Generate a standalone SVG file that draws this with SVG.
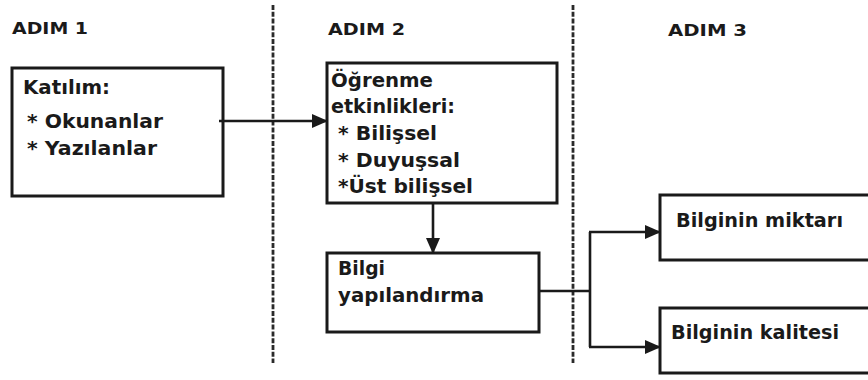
<svg xmlns="http://www.w3.org/2000/svg" width="868" height="380" viewBox="0 0 868 380">
<style>
.box{fill:#fff;stroke:#1a1a1a;stroke-width:3}
.t{font-family:"DejaVu Sans",Verdana,sans-serif;font-size:20px;font-weight:bold;fill:#1a1a1a}
.h{font-family:"DejaVu Sans",Verdana,sans-serif;font-size:15px;font-weight:bold;fill:#1a1a1a}
.c{fill:none;stroke:#1a1a1a;stroke-width:2.6}
.d{fill:none;stroke:#2a2a2a;stroke-width:2.8;stroke-dasharray:5 1.8}
</style>
<defs>
<marker id="ah" viewBox="0 0 16 14" refX="15" refY="7" markerWidth="16" markerHeight="14" markerUnits="userSpaceOnUse" orient="auto">
<path d="M0,0 L16,7 L0,14 Z" fill="#1a1a1a"/>
</marker>
</defs>
<rect width="868" height="380" fill="#fff"/>
<g id="dividers">
<line class="d" x1="273" y1="5" x2="273" y2="363"/>
<line class="d" x1="573" y1="5" x2="573" y2="363"/>
</g>
<g id="headers">
<text class="h" x="12" y="34" textLength="76" lengthAdjust="spacingAndGlyphs">ADIM 1</text>
<text class="h" x="328" y="35" textLength="77" lengthAdjust="spacingAndGlyphs">ADIM 2</text>
<text class="h" x="668" y="36" textLength="79" lengthAdjust="spacingAndGlyphs">ADIM 3</text>
</g>
<g id="node-katilim">
<rect class="box" x="12" y="68" width="211" height="128"/>
<text class="t" x="23" y="94" textLength="87" lengthAdjust="spacingAndGlyphs">Katılım:</text>
<text class="t" x="27" y="128" textLength="136" lengthAdjust="spacingAndGlyphs">* Okunanlar</text>
<text class="t" x="27" y="155" textLength="130" lengthAdjust="spacingAndGlyphs">* Yazılanlar</text>
</g>
<g id="node-ogrenme">
<rect class="box" x="327" y="63" width="230" height="140"/>
<text class="t" x="331" y="87" textLength="102" lengthAdjust="spacingAndGlyphs">Öğrenme</text>
<text class="t" x="331" y="113" textLength="124" lengthAdjust="spacingAndGlyphs">etkinlikleri:</text>
<text class="t" x="338" y="140" textLength="99" lengthAdjust="spacingAndGlyphs">* Bilişsel</text>
<text class="t" x="338" y="167" textLength="122" lengthAdjust="spacingAndGlyphs">* Duyuşsal</text>
<text class="t" x="338" y="193" textLength="135" lengthAdjust="spacingAndGlyphs">*Üst bilişsel</text>
</g>
<g id="node-bilgi">
<rect class="box" x="327" y="253" width="212" height="79"/>
<text class="t" x="338" y="275" textLength="47" lengthAdjust="spacingAndGlyphs">Bilgi</text>
<text class="t" x="338" y="302" textLength="146" lengthAdjust="spacingAndGlyphs">yapılandırma</text>
</g>
<g id="node-miktar">
<rect class="box" x="660" y="195" width="212" height="65"/>
<text class="t" x="676" y="227" textLength="167" lengthAdjust="spacingAndGlyphs">Bilginin miktarı</text>
</g>
<g id="node-kalite">
<rect class="box" x="660" y="308" width="212" height="65"/>
<text class="t" x="671" y="339" textLength="168" lengthAdjust="spacingAndGlyphs">Bilginin kalitesi</text>
</g>
<g id="connectors">
<line class="c" x1="219" y1="121" x2="327" y2="121" marker-end="url(#ah)"/>
<line class="c" x1="433" y1="203" x2="433" y2="253" marker-end="url(#ah)"/>
<polyline class="c" points="539,291 590,291"/>
<polyline class="c" points="590,232 590,347"/>
<line class="c" x1="589" y1="232" x2="660" y2="232" marker-end="url(#ah)"/>
<line class="c" x1="589" y1="347" x2="660" y2="347" marker-end="url(#ah)"/>
</g>
</svg>
